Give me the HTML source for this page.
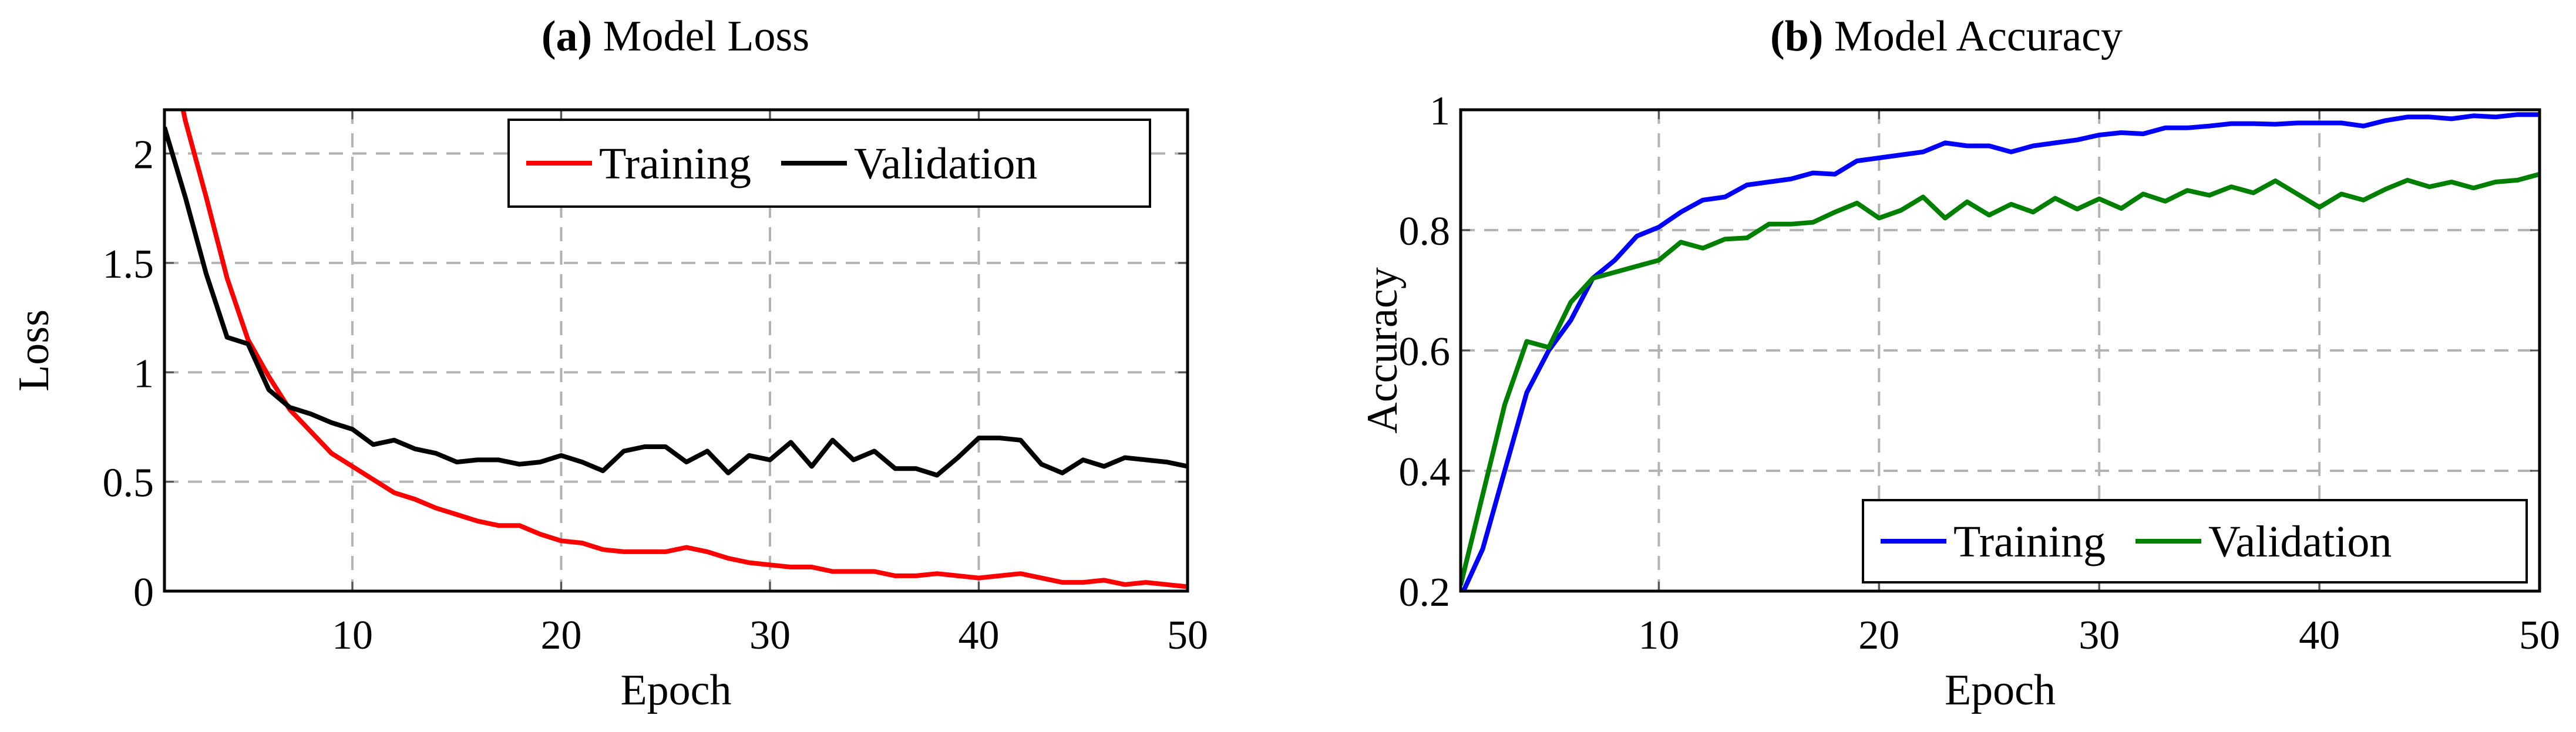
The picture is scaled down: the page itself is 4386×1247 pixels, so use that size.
<!DOCTYPE html>
<html><head><meta charset="utf-8"><style>
html,body{margin:0;padding:0;background:#fff;}
svg{display:block;font-family:"Liberation Serif",serif;}
</style></head><body>
<svg id="svg" width="4386" height="1247" viewBox="0 0 4386 1247" xmlns="http://www.w3.org/2000/svg"></svg>
<script>
const epochs = Array.from({length:50},(_,i)=>i+1);
const lossTrain = [2.6,2.15,1.8,1.43,1.15,0.98,0.83,0.73,0.63,0.57,0.51,0.45,0.42,0.38,0.35,0.32,0.30,0.30,0.26,0.23,0.22,0.19,0.18,0.18,0.18,0.20,0.18,0.15,0.13,0.12,0.11,0.11,0.09,0.09,0.09,0.07,0.07,0.08,0.07,0.06,0.07,0.08,0.06,0.04,0.04,0.05,0.03,0.04,0.03,0.02];
const lossVal = [2.12,1.8,1.45,1.16,1.13,0.92,0.84,0.81,0.77,0.74,0.67,0.69,0.65,0.63,0.59,0.60,0.60,0.58,0.59,0.62,0.59,0.55,0.64,0.66,0.66,0.59,0.64,0.54,0.62,0.60,0.68,0.57,0.69,0.60,0.64,0.56,0.56,0.53,0.61,0.70,0.70,0.69,0.58,0.54,0.60,0.57,0.61,0.60,0.59,0.57];
const accTrain = [0.19,0.27,0.40,0.53,0.60,0.65,0.72,0.75,0.79,0.805,0.83,0.85,0.855,0.875,0.88,0.885,0.895,0.893,0.915,0.92,0.925,0.93,0.945,0.94,0.94,0.93,0.94,0.945,0.95,0.958,0.962,0.96,0.97,0.97,0.973,0.977,0.977,0.976,0.978,0.978,0.978,0.973,0.982,0.988,0.988,0.985,0.99,0.988,0.992,0.992];
const accVal = [0.21,0.36,0.51,0.615,0.605,0.68,0.72,0.73,0.74,0.75,0.78,0.77,0.785,0.787,0.81,0.81,0.813,0.83,0.845,0.82,0.833,0.855,0.82,0.847,0.825,0.843,0.83,0.853,0.835,0.852,0.836,0.86,0.848,0.866,0.858,0.872,0.862,0.882,0.86,0.838,0.86,0.85,0.868,0.883,0.872,0.88,0.87,0.88,0.883,0.893];
const xTicks = [10,20,30,40,50];
const lossTicks = [0,0.5,1,1.5,2];
const lossTickLabels = ["0","0.5","1","1.5","2"];
const accTicks = [0.2,0.4,0.6,0.8,1];
const accTickLabels = ["0.2","0.4","0.6","0.8","1"];

const NS="http://www.w3.org/2000/svg";
const svg=document.getElementById('svg');
function mk(tag,attrs,parent,text){const e=document.createElementNS(NS,tag);for(const k in attrs)e.setAttribute(k,attrs[k]);if(text!==undefined)e.textContent=text;(parent||svg).appendChild(e);return e;}

function panel(cfg){
  const {id,L,R,T,B,ymin,ymax,yTicks,yLabels,series,titleBold,title,tx,ylab,ylx,leg}=cfg;
  const g=mk('g',{});
  
  
  const X=v=>L+(v-1)/49*(R-L);
  const Y=v=>B-(v-ymin)/(ymax-ymin)*(B-T);
  const cp=mk('clipPath',{id:id+'-clip'},g);
  mk('rect',{x:L,y:T,width:R-L,height:B-T},cp);
  xTicks.forEach(t=>{ if(t<50){const l=mk('line',{x1:X(t),x2:X(t),y1:T,y2:B,stroke:'#b3b3b3','stroke-width':4,'stroke-dasharray':'24 16'},g);
    
    }});
  yTicks.forEach(t=>{ if(t>ymin&&t<ymax){const l=mk('line',{x1:L,x2:R,y1:Y(t),y2:Y(t),stroke:'#b3b3b3','stroke-width':4,'stroke-dasharray':'24 16'},g);
    
    }});
  xTicks.forEach(t=>{mk('line',{x1:X(t),x2:X(t),y1:B,y2:B-16,stroke:'#555','stroke-width':3},g);mk('line',{x1:X(t),x2:X(t),y1:T,y2:T+16,stroke:'#555','stroke-width':3},g);
    const tl=mk('text',{x:X(t),y:B+98,'font-size':70,'text-anchor':'middle'},g,String(t));
    
    });
  yTicks.forEach((t,i)=>{mk('line',{x1:L,x2:L+16,y1:Y(t),y2:Y(t),stroke:'#555','stroke-width':3},g);mk('line',{x1:R,x2:R-16,y1:Y(t),y2:Y(t),stroke:'#555','stroke-width':3},g);
    const tl=mk('text',{x:L-18,y:Y(t)+25,'font-size':70,'text-anchor':'end'},g,yLabels[i]);
    
    });
  series.forEach(s=>{
    const d=s.vals.map((v,i)=>(i?'L':'M')+X(epochs[i]).toFixed(1)+','+Y(v).toFixed(1)).join(' ');
    const p=mk('path',{d,fill:'none',stroke:s.color,'stroke-width':8,'stroke-linejoin':'round','clip-path':'url(#'+id+'-clip)'},g);
    
    
  });
  const fr=mk('rect',{x:L,y:T,width:R-L,height:B-T,fill:'none',stroke:'#000','stroke-width':5},g);
  
  
  const tt=mk('text',{x:tx,y:86,'font-size':74,'text-anchor':'middle'},g);
  
  
  mk('tspan',{'font-weight':'bold'},tt,titleBold);
  mk('tspan',{},tt,' '+title);
  const xl=mk('text',{x:(L+R)/2,y:1200,'font-size':74,'text-anchor':'middle'},g,'Epoch');
  
  
  const yl=mk('text',{x:ylx,y:(T+B)/2,'font-size':74,'text-anchor':'middle',transform:`rotate(-90 ${ylx} ${(T+B)/2})`},g,ylab);
  
  
  const lg=mk('g',{},g);
  
  
  mk('rect',{x:leg.x,y:leg.y,width:leg.w,height:leg.h,fill:'#fff',stroke:'#000','stroke-width':4},lg);
  const cy=leg.y+leg.h/2;
  let x=leg.x+30;
  series.forEach(s=>{
    mk('line',{x1:x,x2:x+112,y1:cy,y2:cy,stroke:s.color,'stroke-width':8},lg);
    const t=mk('text',{x:x+124,y:cy+26,'font-size':76},lg,s.label);
    
    
    x+=124+s.lw+10;
  });
}
panel({id:'loss',L:280,R:2022,T:187,B:1007,ymin:0,ymax:2.2,yTicks:lossTicks,yLabels:lossTickLabels,
  series:[{name:'loss-training-line',label:'Training',color:'#ff0000',vals:lossTrain,lw:300},{name:'loss-validation-line',label:'Validation',color:'#000',vals:lossVal,lw:360}],
  titleBold:'(a)',title:'Model Loss',tx:1150,ylab:'Loss',ylx:82,leg:{x:866,y:204,w:1092,h:148}});
panel({id:'acc',L:2487,R:4324,T:187,B:1007,ymin:0.2,ymax:1,yTicks:accTicks,yLabels:accTickLabels,
  series:[{name:'accuracy-training-line',label:'Training',color:'#0000ff',vals:accTrain,lw:300},{name:'accuracy-validation-line',label:'Validation',color:'#008000',vals:accVal,lw:360}],
  titleBold:'(b)',title:'Model Accuracy',tx:3314,ylab:'Accuracy',ylx:2378,leg:{x:3172,y:852,w:1130,h:140}});
</script>
</body></html>
